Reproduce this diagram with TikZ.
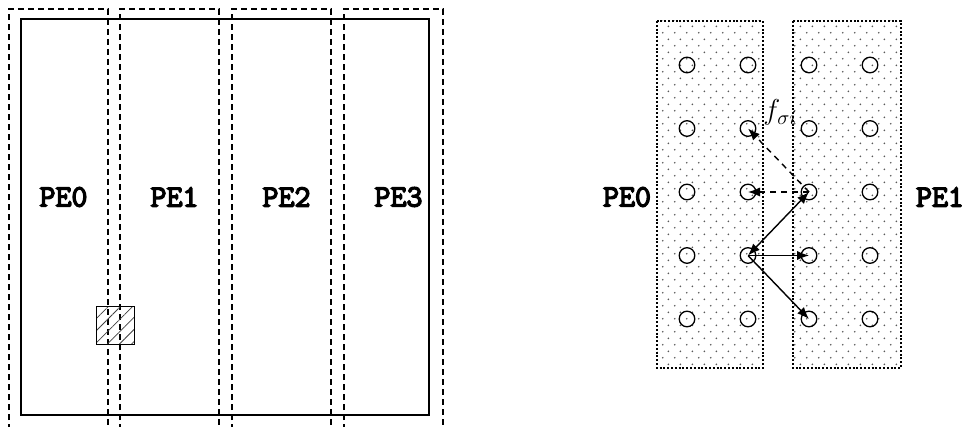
\documentclass[tikz,border=0pt]{standalone}
\usepackage{fontspec}
\newfontfamily\pefont{Latin Modern Mono}[FakeBold=4.5]
\usepackage{tikz}
\usetikzlibrary{arrows.meta,patterns.meta}
\pgfdeclarepattern{name=pedots,type=uncolored,bottom left={\pgfpoint{0pt}{0pt}},top right={\pgfpoint{6pt}{6.7pt}},tile size={\pgfpoint{6pt}{6.7pt}},code={\pgfpathcircle{\pgfpoint{1.5pt}{1.7pt}}{.5pt}\pgfpathcircle{\pgfpoint{4.5pt}{5.05pt}}{.5pt}\pgfusepath{fill}}}
\tikzset{pelabel/.style={font=\pefont\fontsize{15.5}{17}\selectfont,inner sep=0pt},pebox/.style={draw,dash pattern=on 3pt off 2pt,line width=.55pt},subdom/.style={draw,dash pattern=on 1pt off .9pt,line width=.55pt,pattern=pedots,pattern color=black!65},site/.style={circle,draw,line width=.65pt,minimum size=7.8pt,inner sep=0pt},link/.style={-{Latex[length=6pt,width=4.6pt]},line width=.7pt},ghost/.style={link,dash pattern=on 3pt off 2.5pt}}
\begin{document}
\begin{tikzpicture}[x=.5pt,y=-.5pt]
 \useasboundingbox (0,0) rectangle (962,427);
 % left: domain split into four overlapping slabs
 \draw[line width=.65pt] (21,19) rectangle (429,415);
 \foreach \l/\r/\i in {9/108/0,120/219/1,232/331/2,344/443/3}{\draw[pebox] (\l,430)--(\l,9)--(\r,9)--(\r,430);\node[pelabel] (pe\i) at ({(\l+\r)/2+5},197) {PE\i};}
 \draw[line width=.65pt,pattern={Lines[angle=45,distance=4.3pt,line width=.4pt]},pattern color=black!75] (96.3,306.7) rectangle (134.3,344.3);
 % right: particles near the PE0/PE1 border
 \draw[subdom] (657,21) rectangle (763,368);
 \draw[subdom] (793,21) rectangle (901,368);
 \foreach \x [count=\c] in {687,748,809,870}{\foreach \y [count=\r] in {65,128.5,192,255.5,319}{\node[site] (c\c\r) at (\x,\y) {};}}
 \node[pelabel] (lpe0) at (627,197) {PE0};
 \node[pelabel] (lpe1) at (940,197) {PE1};
 \draw[ghost] (c33.center) -- (c22.center);
 \draw[ghost] (c33.center) -- (c23.center);
 \draw[link,{Latex[length=6pt,width=4.6pt]}-{Latex[length=6pt,width=4.6pt]}] (c24.center) -- (c33.center);
 \draw[link] (c24.center) -- (c34.center);
 \draw[link] (c24.center) -- (c35.center);
 \node[anchor=base west,inner sep=0pt,font=\fontsize{14}{16}\selectfont] (fsig) at (763,120) {$f_{\sigma i}$};
\end{tikzpicture}
\end{document}
